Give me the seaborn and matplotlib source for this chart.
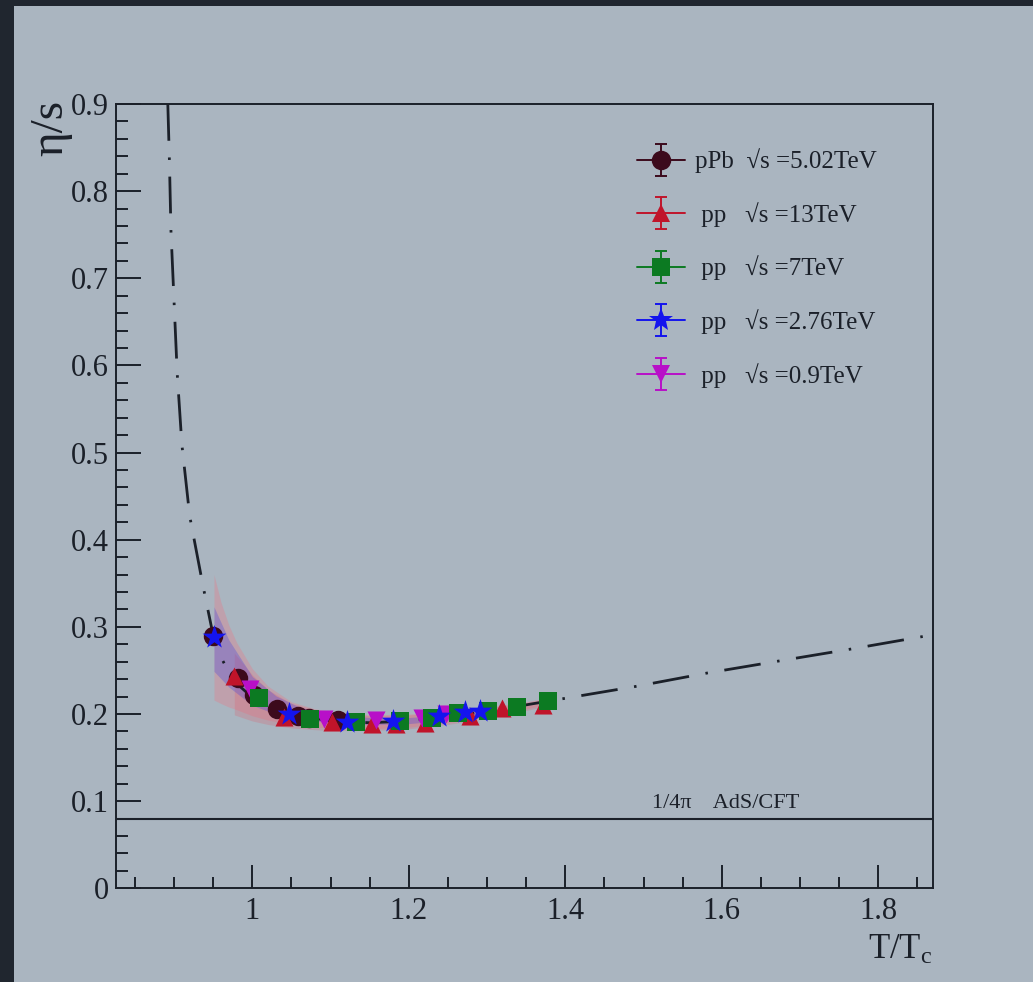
import numpy as np
import matplotlib
matplotlib.use("Agg")
import matplotlib.pyplot as plt
import seaborn as sns
from matplotlib.lines import Line2D
from matplotlib.collections import LineCollection
from matplotlib.container import ErrorbarContainer
from matplotlib.legend_handler import HandlerErrorbar
from matplotlib.patches import Rectangle
from matplotlib.ticker import MultipleLocator, FuncFormatter

# ---- data: eta/s versus T/Tc -------------------------------------------
ppb_502_x = [0.950, 0.982, 1.002, 1.032, 1.058, 1.072, 1.110]
ppb_502_y = [0.290, 0.241, 0.222, 0.2055, 0.198, 0.196, 0.193]

pp_13_x = [0.976, 1.040, 1.1015, 1.1526, 1.183, 1.2207, 1.278, 1.3187, 1.372]
pp_13_y = [0.2437, 0.197, 0.191, 0.189, 0.189, 0.190, 0.198, 0.2067, 0.2105]

pp_7_x = [1.009, 1.074, 1.133, 1.189, 1.229, 1.263, 1.3016, 1.338, 1.378]
pp_7_y = [0.218, 0.194, 0.191, 0.192, 0.195, 0.201, 0.204, 0.2085, 0.2154]

pp_276_x = [0.951, 1.047, 1.1206, 1.180, 1.238, 1.272, 1.291]
pp_276_y = [0.288, 0.200, 0.191, 0.192, 0.198, 0.202, 0.204]

pp_09_x = [0.997, 1.091, 1.158, 1.2165, 1.248]
pp_09_y = [0.229, 0.194, 0.193, 0.195, 0.200]

# theory curve (dash-dotted)
curve_x = [0.892, 0.894, 0.896, 0.900, 0.904, 0.910, 0.920, 0.937, 0.950,
           0.960, 0.970, 0.985, 1.000, 1.025, 1.050, 1.100, 1.150, 1.200,
           1.300, 1.393, 1.489, 1.581, 1.674, 1.768, 1.870]
curve_y = [0.900, 0.837, 0.755, 0.673, 0.591, 0.509, 0.427, 0.347, 0.290,
           0.265, 0.248, 0.231, 0.219, 0.207, 0.200, 0.192, 0.190, 0.192,
           0.203, 0.217, 0.2315, 0.247, 0.261, 0.275, 0.291]

# uncertainty bands
band_a_x = [0.951, 0.960, 0.970, 0.980, 1.000, 1.020, 1.050, 1.080, 1.100,
            1.150, 1.200, 1.250, 1.300, 1.350, 1.380]
band_a_hi = [0.360, 0.328, 0.302, 0.282, 0.252, 0.232, 0.214, 0.206, 0.203,
             0.199, 0.200, 0.203, 0.208, 0.214, 0.219]
band_a_lo = [0.216, 0.212, 0.208, 0.205, 0.198, 0.193, 0.188, 0.185, 0.184,
             0.183, 0.185, 0.190, 0.197, 0.206, 0.212]

band_b_x = [0.977, 1.000, 1.020, 1.050, 1.080, 1.100, 1.150, 1.200, 1.250,
            1.300, 1.350, 1.380]
band_b_hi = [0.270, 0.245, 0.228, 0.212, 0.205, 0.202, 0.198, 0.199, 0.202,
             0.207, 0.213, 0.218]
band_b_lo = [0.199, 0.192, 0.188, 0.184, 0.182, 0.181, 0.181, 0.183, 0.188,
             0.195, 0.204, 0.210]

band_c_x = [0.951, 0.970, 1.000, 1.030, 1.060, 1.100, 1.150, 1.200, 1.250, 1.290]
band_c_hi = [0.323, 0.285, 0.243, 0.221, 0.208, 0.200, 0.196, 0.196, 0.199, 0.203]
band_c_lo = [0.249, 0.231, 0.210, 0.200, 0.194, 0.190, 0.188, 0.189, 0.193, 0.198]

KSS_BOUND = 1.0 / (4.0 * np.pi)

series_labels = ["pPb  \u221as =5.02TeV",
                 " pp   \u221as =13TeV",
                 " pp   \u221as =7TeV",
                 " pp   \u221as =2.76TeV",
                 " pp   \u221as =0.9TeV"]

# ---- style -------------------------------------------------------------
sns.set_style("ticks")
INK = "#1b2029"
BG = "#aab5c0"
EDGE = "#20262f"
plt.rcParams["font.family"] = ["Liberation Serif", "DejaVu Serif"]
plt.rcParams["mathtext.fontset"] = "custom"
plt.rcParams["mathtext.rm"] = "Liberation Serif"
plt.rcParams["mathtext.it"] = "Liberation Serif:italic"
plt.rcParams["lines.scale_dashes"] = False
plt.rcParams["text.color"] = INK
plt.rcParams["axes.labelcolor"] = INK
plt.rcParams["xtick.color"] = INK
plt.rcParams["ytick.color"] = INK

fig = plt.figure(figsize=(10.33, 9.82), dpi=100, facecolor=EDGE)
fig.patches.append(Rectangle((14 / 1033, 0), 1, 1 - 6 / 982,
                             transform=fig.transFigure, facecolor=BG,
                             edgecolor="none", zorder=-10))
ax = fig.add_axes([0.1120, 0.0954, 0.7909, 0.7987])
ax.set_facecolor("none")

# bands
ax.fill_between(band_a_x, band_a_lo, band_a_hi, color="#f07080", alpha=0.30,
                lw=0, zorder=1)
ax.fill_between(band_b_x, band_b_lo, band_b_hi, color="#e05a6a", alpha=0.25,
                lw=0, zorder=1)
ax.fill_between(band_c_x, band_c_lo, band_c_hi, color="#4040e0", alpha=0.30,
                lw=0, zorder=1.1)

# theory curve
sns.lineplot(x=curve_x, y=curve_y, sort=False, estimator=None, color=INK,
             lw=2.0, ax=ax, zorder=2)
ax.lines[-1].set_dashes([26.5, 12.0, 1.8, 12.0])

# KSS bound
ax.axhline(KSS_BOUND, color=INK, lw=1.5, zorder=2)
ax.text(1.511, 0.092, "1/4\u03c0    AdS/CFT", fontsize=16, va="baseline",
        ha="left", color=INK)

series = [
    (ppb_502_x, ppb_502_y, "o", 14, "#3c0a1c"),
    (pp_13_x, pp_13_y, "^", 13, "#c0142a"),
    (pp_7_x, pp_7_y, "s", 13, "#0c7a22"),
    (pp_276_x, pp_276_y, "*", 18, "#1414ee"),
    (pp_09_x, pp_09_y, "v", 13, "#b810c8"),
]
draw_order = [0, 1, 4, 2, 3]
for z, i in enumerate(draw_order):
    xs, ys, mk, ms, col = series[i]
    sns.scatterplot(x=xs, y=ys, marker=mk, s=ms ** 2, color=col, linewidth=0,
                    ax=ax, zorder=3 + z * 0.1, legend=False)

# legend proxies with vertical error bars
handles = []
for (xs, ys, mk, ms, col), lab in zip(series, series_labels):
    line = Line2D([], [], color=col, marker=mk, ms=ms, mew=0, lw=1.4, ls="-")
    cap = Line2D([], [], color=col, marker="_", ms=8, mew=1.4, ls="None")
    bars = LineCollection([], colors=col, linewidths=1.4)
    handles.append(ErrorbarContainer((line, (cap, cap), (bars,)),
                                     has_xerr=False, has_yerr=True, label=lab))
leg = ax.legend(handles=handles, labels=series_labels, loc="upper left",
                bbox_to_anchor=(637 / 1033, 1 - 148.5 / 982),
                bbox_transform=fig.transFigure, frameon=False, fontsize=18,
                handlelength=1.92, handletextpad=0.40, labelspacing=1.15,
                borderpad=0, borderaxespad=0, numpoints=1,
                handler_map={ErrorbarContainer: HandlerErrorbar(yerr_size=0.64)})

# axes
ax.set_xlim(0.8254, 1.8695)
ax.set_ylim(0, 0.9)
ax.xaxis.set_major_locator(MultipleLocator(0.2))
ax.xaxis.set_minor_locator(MultipleLocator(0.05))
ax.yaxis.set_major_locator(MultipleLocator(0.1))
ax.yaxis.set_minor_locator(MultipleLocator(0.02))
fmt = FuncFormatter(lambda v, p: f"{v:g}")
ax.xaxis.set_major_formatter(fmt)
ax.yaxis.set_major_formatter(fmt)
ax.tick_params(axis="both", which="both", direction="in", top=False,
               right=False, width=1.4, labelsize=22, colors=INK)
ax.tick_params(axis="x", which="major", length=16.5, pad=6)
ax.tick_params(axis="x", which="minor", length=8)
ax.tick_params(axis="y", which="major", length=18, pad=5)
ax.tick_params(axis="y", which="minor", length=8.6)
for sp in ax.spines.values():
    sp.set_visible(True)
    sp.set_color(INK)
    sp.set_linewidth(1.4)

ax.set_ylabel("\u03b7/s", loc="top", fontsize=34)
ax.yaxis.set_label_coords(-0.053, 1.005)
ax.set_xlabel("T/T$_{\\mathrm{c}}$", loc="right", fontsize=25)
ax.xaxis.set_label_coords(1.0, -0.058)

fig.savefig("out.png", dpi=100, facecolor=fig.get_facecolor())
